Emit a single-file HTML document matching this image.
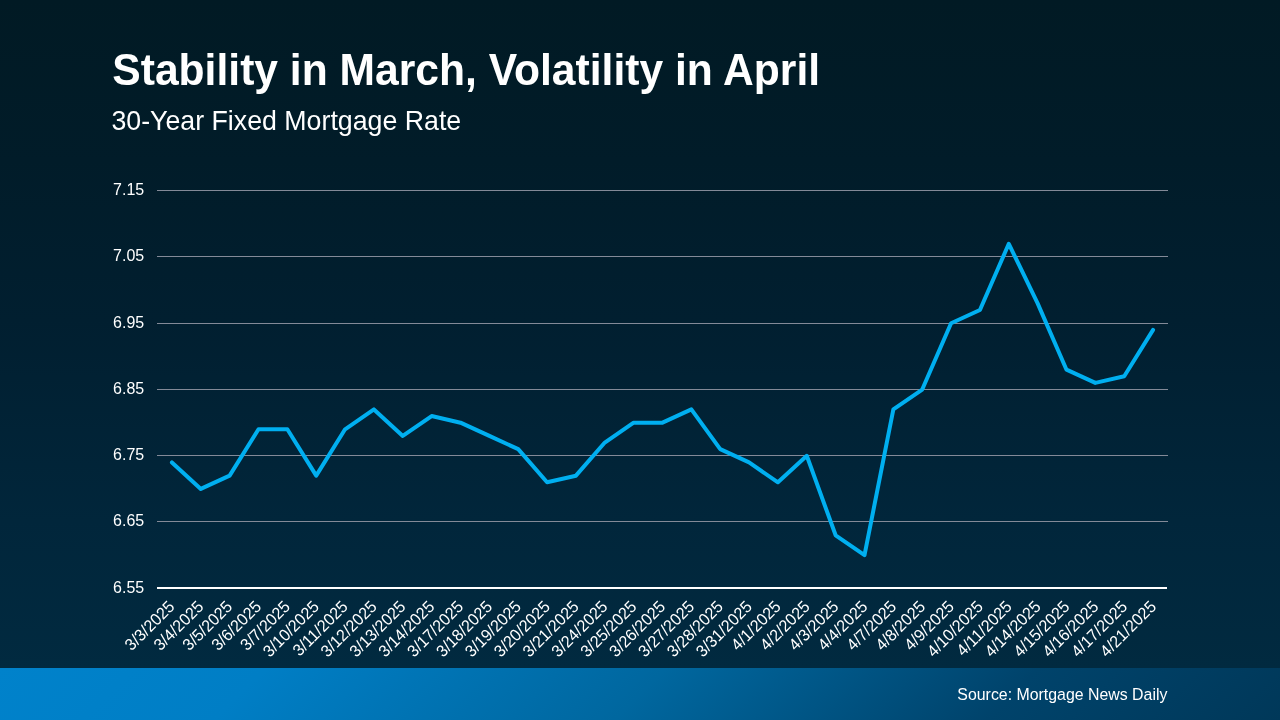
<!DOCTYPE html>
<html lang="en">
<head>
<meta charset="utf-8">
<title>Stability in March, Volatility in April</title>
<style>
html,body{margin:0;padding:0;}
body{width:1280px;height:720px;overflow:hidden;position:relative;background:#012a40;font-family:"Liberation Sans",sans-serif;}
#bg{position:absolute;left:0;top:0;width:1280px;height:668px;background:linear-gradient(180deg,#011a24 0%,#011c29 24%,#011f30 48%,#01263b 78%,#012a40 100%);}
#foot{position:absolute;left:0;top:668px;width:1280px;height:52px;background:linear-gradient(135deg,#0082cb 0%,#007ec5 20%,#00679f 50%,#00436b 78%,#003859 100%);}
svg{position:absolute;left:0;top:0;}
text{font-family:"Liberation Sans",sans-serif;}
.t1{font-size:42.62px;font-weight:700;fill:#fff;}
.t2{font-size:26.75px;fill:#fff;}
.src{font-size:15.9px;fill:#fff;text-anchor:end;}
.g{stroke:#838a98;stroke-width:1;}
.ax{stroke:#fff;stroke-width:2;}
.yl{font-size:16px;fill:#fff;}
.xl{font-size:16px;fill:#fff;text-anchor:end;}
.ln{fill:none;stroke:#00aff0;stroke-width:4;stroke-linejoin:round;stroke-linecap:round;}
</style>
</head>
<body>
<div id="bg"></div>
<div id="foot"></div>
<svg width="1280" height="720" viewBox="0 0 1280 720">
<text transform="translate(112.3,84.6) scale(1,1.025)" class="t1">Stability in March, Volatility in April</text>
<text transform="translate(111.4,130) scale(1,1.025)" class="t2">30-Year Fixed Mortgage Rate</text>
<line x1="157" x2="1168" y1="190.50" y2="190.50" class="g"/>
<line x1="157" x2="1168" y1="256.50" y2="256.50" class="g"/>
<line x1="157" x2="1168" y1="323.50" y2="323.50" class="g"/>
<line x1="157" x2="1168" y1="389.50" y2="389.50" class="g"/>
<line x1="157" x2="1168" y1="455.50" y2="455.50" class="g"/>
<line x1="157" x2="1168" y1="521.50" y2="521.50" class="g"/>
<line x1="157" x2="1167" y1="588.00" y2="588.00" class="ax"/>
<text transform="translate(113.1,195.40) scale(1,1.04)" class="yl">7.15</text>
<text transform="translate(113.1,261.40) scale(1,1.04)" class="yl">7.05</text>
<text transform="translate(113.1,328.40) scale(1,1.04)" class="yl">6.95</text>
<text transform="translate(113.1,394.40) scale(1,1.04)" class="yl">6.85</text>
<text transform="translate(113.1,460.40) scale(1,1.04)" class="yl">6.75</text>
<text transform="translate(113.1,526.40) scale(1,1.04)" class="yl">6.65</text>
<text transform="translate(113.1,592.90) scale(1,1.04)" class="yl">6.55</text>
<text transform="translate(175.63,607.60) rotate(-45) scale(1,1.04)" class="xl">3/3/2025</text>
<text transform="translate(204.50,607.60) rotate(-45) scale(1,1.04)" class="xl">3/4/2025</text>
<text transform="translate(233.37,607.60) rotate(-45) scale(1,1.04)" class="xl">3/5/2025</text>
<text transform="translate(262.24,607.60) rotate(-45) scale(1,1.04)" class="xl">3/6/2025</text>
<text transform="translate(291.11,607.60) rotate(-45) scale(1,1.04)" class="xl">3/7/2025</text>
<text transform="translate(319.98,607.60) rotate(-45) scale(1,1.04)" class="xl">3/10/2025</text>
<text transform="translate(348.85,607.60) rotate(-45) scale(1,1.04)" class="xl">3/11/2025</text>
<text transform="translate(377.71,607.60) rotate(-45) scale(1,1.04)" class="xl">3/12/2025</text>
<text transform="translate(406.58,607.60) rotate(-45) scale(1,1.04)" class="xl">3/13/2025</text>
<text transform="translate(435.45,607.60) rotate(-45) scale(1,1.04)" class="xl">3/14/2025</text>
<text transform="translate(464.32,607.60) rotate(-45) scale(1,1.04)" class="xl">3/17/2025</text>
<text transform="translate(493.19,607.60) rotate(-45) scale(1,1.04)" class="xl">3/18/2025</text>
<text transform="translate(522.06,607.60) rotate(-45) scale(1,1.04)" class="xl">3/19/2025</text>
<text transform="translate(550.93,607.60) rotate(-45) scale(1,1.04)" class="xl">3/20/2025</text>
<text transform="translate(579.79,607.60) rotate(-45) scale(1,1.04)" class="xl">3/21/2025</text>
<text transform="translate(608.66,607.60) rotate(-45) scale(1,1.04)" class="xl">3/24/2025</text>
<text transform="translate(637.53,607.60) rotate(-45) scale(1,1.04)" class="xl">3/25/2025</text>
<text transform="translate(666.40,607.60) rotate(-45) scale(1,1.04)" class="xl">3/26/2025</text>
<text transform="translate(695.27,607.60) rotate(-45) scale(1,1.04)" class="xl">3/27/2025</text>
<text transform="translate(724.14,607.60) rotate(-45) scale(1,1.04)" class="xl">3/28/2025</text>
<text transform="translate(753.01,607.60) rotate(-45) scale(1,1.04)" class="xl">3/31/2025</text>
<text transform="translate(781.87,607.60) rotate(-45) scale(1,1.04)" class="xl">4/1/2025</text>
<text transform="translate(810.74,607.60) rotate(-45) scale(1,1.04)" class="xl">4/2/2025</text>
<text transform="translate(839.61,607.60) rotate(-45) scale(1,1.04)" class="xl">4/3/2025</text>
<text transform="translate(868.48,607.60) rotate(-45) scale(1,1.04)" class="xl">4/4/2025</text>
<text transform="translate(897.35,607.60) rotate(-45) scale(1,1.04)" class="xl">4/7/2025</text>
<text transform="translate(926.22,607.60) rotate(-45) scale(1,1.04)" class="xl">4/8/2025</text>
<text transform="translate(955.09,607.60) rotate(-45) scale(1,1.04)" class="xl">4/9/2025</text>
<text transform="translate(983.95,607.60) rotate(-45) scale(1,1.04)" class="xl">4/10/2025</text>
<text transform="translate(1012.82,607.60) rotate(-45) scale(1,1.04)" class="xl">4/11/2025</text>
<text transform="translate(1041.69,607.60) rotate(-45) scale(1,1.04)" class="xl">4/14/2025</text>
<text transform="translate(1070.56,607.60) rotate(-45) scale(1,1.04)" class="xl">4/15/2025</text>
<text transform="translate(1099.43,607.60) rotate(-45) scale(1,1.04)" class="xl">4/16/2025</text>
<text transform="translate(1128.30,607.60) rotate(-45) scale(1,1.04)" class="xl">4/17/2025</text>
<text transform="translate(1157.17,607.60) rotate(-45) scale(1,1.04)" class="xl">4/21/2025</text>
<polyline class="ln" points="171.93,462.42 200.79,488.92 229.64,475.68 258.50,429.30 287.36,429.30 316.21,475.68 345.07,429.30 373.93,409.42 402.79,435.92 431.64,416.05 460.50,422.68 489.36,435.92 518.21,449.18 547.07,482.30 575.93,475.68 604.79,442.55 633.64,422.68 662.50,422.68 691.36,409.42 720.21,449.18 749.07,462.42 777.93,482.30 806.79,455.80 835.64,535.30 864.50,555.18 893.36,409.42 922.21,389.55 951.07,323.30 979.93,310.05 1008.79,243.80 1037.64,303.42 1066.50,369.68 1095.36,382.92 1124.21,376.30 1153.07,329.92"/>
<text transform="translate(1167.4,700) scale(1,1.025)" class="src">Source: Mortgage News Daily</text>
</svg>
</body>
</html>
